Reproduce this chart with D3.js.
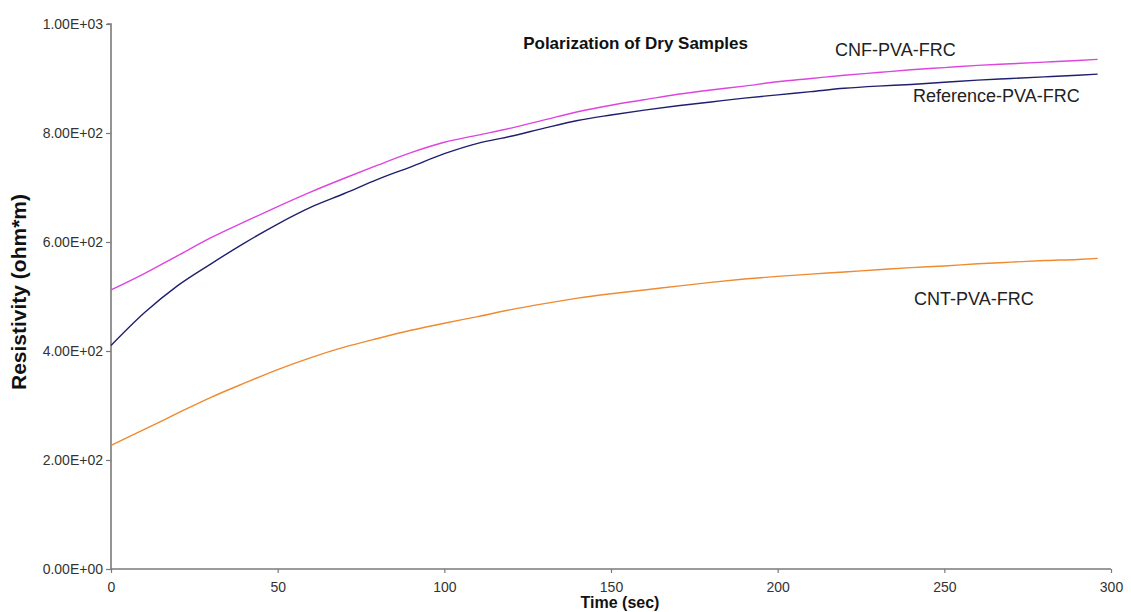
<!DOCTYPE html>
<html>
<head>
<meta charset="utf-8">
<script src="https://cdn.jsdelivr.net/npm/d3@7"></script>
<style>
  html, body { margin: 0; padding: 0; background: #fff; }
  svg { display: block; font-family: "Liberation Sans", Arial, sans-serif; }
</style>
</head>
<body>
<svg id="chart" width="1131" height="612"></svg>
<script>
// Sample times (sec)
const times = [0, 10, 20, 30, 40, 50, 60, 70, 80, 90, 100, 110, 120, 130, 140, 150,
               160, 170, 180, 190, 200, 210, 220, 230, 240, 250, 260, 270, 280, 290, 296];

// Resistivity (ohm*m) for each sample
const cnfValues = [512, 542, 575, 608, 637, 665, 692, 717, 741, 764, 783, 796, 809, 824, 839, 851,
                   861, 871, 879, 886, 894, 900, 906, 911, 916, 920, 924, 927, 930, 933, 935];
const refValues = [410, 470, 520, 560, 598, 633, 664, 689, 715, 738, 762, 781, 794, 809, 823, 833,
                   842, 850, 857, 864, 870, 876, 882, 886, 889, 893, 897, 900, 903, 906, 908];
const cntValues = [227, 256, 286, 315, 341, 366, 388, 407, 423, 438, 451, 463, 476, 487, 497, 505,
                   512, 519, 526, 532, 537, 541, 545, 549, 553, 556, 560, 563, 566, 568, 570];

const seriesNames = ["CNF-PVA-FRC", "Reference-PVA-FRC", "CNT-PVA-FRC"];
const seriesColors = ["#de45de", "#1f1f6e", "#ee8a30"];

const xTicks = [0, 50, 100, 150, 200, 250, 300];
const yTicks = [0, 200, 400, 600, 800, 1000];
const yTickLabels = ["0.00E+00", "2.00E+02", "4.00E+02", "6.00E+02", "8.00E+02", "1.00E+03"];

const svg = d3.select("#chart");
const x = d3.scaleLinear().domain([0, 300]).range([111, 1111]);
const y = d3.scaleLinear().domain([0, 1000]).range([569, 24]);

// Axes
const axisColor = "#7a7a7a";
const yAxis = svg.append("g")
  .attr("transform", `translate(${x(0)},0)`)
  .call(d3.axisLeft(y).tickValues(yTicks).tickSize(5).tickPadding(3)
    .tickFormat((d, i) => yTickLabels[i]));
const xAxis = svg.append("g")
  .attr("transform", `translate(0,${y(0)})`)
  .call(d3.axisBottom(x).tickValues(xTicks).tickSize(4).tickPadding(9));

[xAxis, yAxis].forEach(g => {
  g.select(".domain").attr("stroke", axisColor).attr("stroke-width", 1.6);
  g.selectAll(".tick line").attr("stroke", axisColor).attr("stroke-width", 1.2);
  g.selectAll(".tick text").attr("fill", "#333").attr("font-size", 14)
    .attr("font-family", "Liberation Sans, Arial, sans-serif");
});
yAxis.select(".domain").attr("d", `M0,${y(0)}V${y(1000)}H-4`);
xAxis.select(".domain").attr("d", `M${x(0)},0H${x(300)}`);

// Lines
const allSeries = [cnfValues, refValues, cntValues];
const line = d3.line()
  .x((d, i) => x(times[i]))
  .y(d => y(d))
  .curve(d3.curveMonotoneX);

allSeries.forEach((vals, k) => {
  svg.append("path")
    .datum(vals)
    .attr("fill", "none")
    .attr("stroke", seriesColors[k])
    .attr("stroke-width", 1.4)
    .attr("d", line);
});

// Series labels
const labelPos = [
  { t: 217.2, v: 950 },
  { t: 240.6, v: 866 },
  { t: 240.9, v: 494 }
];
seriesNames.forEach((name, k) => {
  svg.append("text")
    .attr("x", x(labelPos[k].t))
    .attr("y", y(labelPos[k].v))
    .attr("text-anchor", "start")
    .attr("dominant-baseline", "middle")
    .attr("font-size", 18)
    .attr("fill", "#222")
    .text(name);
});

// Title
svg.append("text")
  .attr("x", 748).attr("y", 45)
  .attr("text-anchor", "end")
  .attr("dominant-baseline", "middle")
  .attr("font-size", 17).attr("font-weight", "bold")
  .attr("fill", "#111")
  .text("Polarization of Dry Samples");

// Axis titles
svg.append("text")
  .attr("transform", "translate(20,292) rotate(-90)")
  .attr("text-anchor", "middle")
  .attr("dominant-baseline", "middle")
  .attr("font-size", 21).attr("font-weight", "bold")
  .attr("fill", "#111")
  .text("Resistivity (ohm*m)");

svg.append("text")
  .attr("x", 620).attr("y", 604)
  .attr("text-anchor", "middle")
  .attr("dominant-baseline", "middle")
  .attr("font-size", 16).attr("font-weight", "bold")
  .attr("fill", "#111")
  .text("Time (sec)");
</script>
</body>
</html>
